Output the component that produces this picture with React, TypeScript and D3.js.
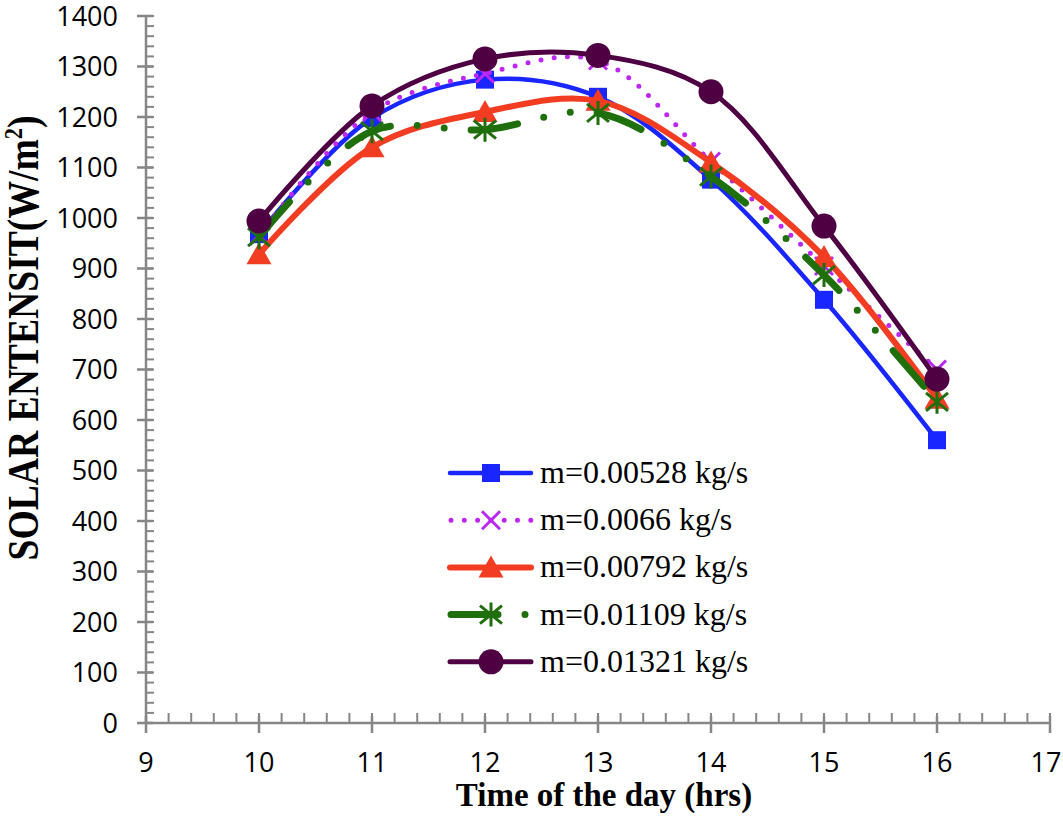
import { useRef, useEffect } from 'react'
import * as d3 from 'd3'

const hours = [10, 11, 12, 13, 14, 15, 16]
const seriesLabels = [
    'm=0.00528 kg/s',
    'm=0.0066 kg/s',
    'm=0.00792 kg/s',
    'm=0.01109 kg/s',
    'm=0.01321 kg/s',
]
const blueValues = [968, 1198, 1274, 1240, 1076, 838, 560]
const violetValues = [965, 1210, 1286, 1312, 1112, 905, 700]
const redValues = [928, 1140, 1210, 1232, 1110, 923, 642]
const greenValues = [962, 1172, 1175, 1208, 1082, 887, 636]
const plumValues = [994, 1222, 1315, 1322, 1250, 984, 681]

const xTicks = [9, 10, 11, 12, 13, 14, 15, 16, 17]
const yTicks = [0, 100, 200, 300, 400, 500, 600, 700, 800, 900, 1000, 1100, 1200, 1300, 1400]

const width = 1063
const height = 831
const left = 146
const right = 1050
const top = 16
const bottom = 723

type Marker = 'square' | 'cross' | 'triangle' | 'asterisk' | 'circle'

const styles: { color: string; width: number; dash: string | null; marker: Marker }[] = [
    { color: '#1a26ff', width: 4.5, dash: null, marker: 'square' },
    { color: '#bb27f3', width: 5, dash: '0 13.3', marker: 'cross' },
    { color: '#f23d22', width: 6, dash: null, marker: 'triangle' },
    { color: '#1f6f0c', width: 7, dash: '47 27 0 27 0 27', marker: 'asterisk' },
    { color: '#4e0043', width: 5, dash: null, marker: 'circle' },
]

const seriesValues = [blueValues, violetValues, redValues, greenValues, plumValues]

function drawMarker(
    g: d3.Selection<SVGGElement, unknown, null, undefined>,
    kind: Marker,
    cx: number,
    cy: number,
    color: string
) {
    if (kind === 'square') {
        g.append('rect')
            .attr('x', cx - 9)
            .attr('y', cy - 9)
            .attr('width', 18)
            .attr('height', 18)
            .attr('fill', color)
    } else if (kind === 'cross') {
        g.append('path')
            .attr('d', `M${cx - 9},${cy - 9}L${cx + 9},${cy + 9}M${cx - 9},${cy + 9}L${cx + 9},${cy - 9}`)
            .attr('stroke', color)
            .attr('stroke-width', 3)
            .attr('fill', 'none')
    } else if (kind === 'triangle') {
        g.append('path')
            .attr('d', `M${cx},${cy - 12}L${cx + 12.5},${cy + 10}L${cx - 12.5},${cy + 10}Z`)
            .attr('fill', color)
    } else if (kind === 'asterisk') {
        g.append('path')
            .attr(
                'd',
                `M${cx},${cy - 12}L${cx},${cy + 12}` +
                    `M${cx - 11},${cy - 9}L${cx + 11},${cy + 9}` +
                    `M${cx - 11},${cy + 9}L${cx + 11},${cy - 9}`
            )
            .attr('stroke', color)
            .attr('stroke-width', 3)
            .attr('fill', 'none')
    } else {
        g.append('circle')
            .attr('cx', cx)
            .attr('cy', cy)
            .attr('r', 12.5)
            .attr('fill', color)
    }
}

export default function App() {
    const ref = useRef<SVGSVGElement | null>(null)

    useEffect(() => {
        if (!ref.current) return
        const svg = d3.select(ref.current)
        svg.selectAll('*').remove()

        const x = d3.scaleLinear().domain([9, 17]).range([left, right])
        const y = d3.scaleLinear().domain([0, 1400]).range([bottom, top])

        const axisColor = '#868686'
        const tickFont = "'Open Sans', sans-serif"
        const serif = "'Liberation Serif', 'Times New Roman', serif"

        // axes
        const axes = svg.append('g')
        const xMinor = d3.range(9, 17.001, 0.2)
        const yMinor = d3.range(0, 1400.001, 20)

        axes.selectAll('.ymin')
            .data(yMinor)
            .enter()
            .append('line')
            .attr('x1', left)
            .attr('x2', left + 8)
            .attr('y1', (d) => y(d))
            .attr('y2', (d) => y(d))
            .attr('stroke', axisColor)
            .attr('stroke-width', 2)

        axes.selectAll('.xmin')
            .data(xMinor)
            .enter()
            .append('line')
            .attr('x1', (d) => x(d))
            .attr('x2', (d) => x(d))
            .attr('y1', bottom - 10)
            .attr('y2', bottom)
            .attr('stroke', axisColor)
            .attr('stroke-width', 2)

        axes.selectAll('.ymaj')
            .data(yTicks)
            .enter()
            .append('line')
            .attr('x1', left - 9)
            .attr('x2', left + 7)
            .attr('y1', (d) => y(d))
            .attr('y2', (d) => y(d))
            .attr('stroke', axisColor)
            .attr('stroke-width', 2.5)

        axes.selectAll('.xmaj')
            .data(xTicks)
            .enter()
            .append('line')
            .attr('x1', (d) => x(d))
            .attr('x2', (d) => x(d))
            .attr('y1', bottom - 7)
            .attr('y2', bottom + 10)
            .attr('stroke', axisColor)
            .attr('stroke-width', 2.5)

        axes.append('line')
            .attr('x1', left)
            .attr('x2', left)
            .attr('y1', top)
            .attr('y2', bottom)
            .attr('stroke', axisColor)
            .attr('stroke-width', 2.5)

        axes.append('line')
            .attr('x1', left)
            .attr('x2', right)
            .attr('y1', bottom)
            .attr('y2', bottom)
            .attr('stroke', axisColor)
            .attr('stroke-width', 2.5)

        axes.selectAll('.ylab')
            .data(yTicks)
            .enter()
            .append('text')
            .attr('x', left - 28)
            .attr('y', (d) => y(d))
            .attr('dy', '0.36em')
            .attr('text-anchor', 'end')
            .attr('font-family', tickFont)
            .attr('font-size', 27)
            .attr('fill', '#000')
            .text((d) => d)

        axes.selectAll('.xlab')
            .data(xTicks)
            .enter()
            .append('text')
            .attr('x', (d) => Math.min(x(d), 1046))
            .attr('y', 772)
            .attr('text-anchor', 'middle')
            .attr('font-family', tickFont)
            .attr('font-size', 27)
            .attr('fill', '#000')
            .text((d) => d)

        // axis titles
        svg.append('text')
            .attr('x', 604)
            .attr('y', 806)
            .attr('text-anchor', 'middle')
            .attr('font-family', serif)
            .attr('font-weight', 'bold')
            .attr('font-size', 33)
            .text('Time of the day (hrs)')

        const yTitle = svg
            .append('text')
            .attr('transform', 'translate(38,338) rotate(-90)')
            .attr('text-anchor', 'middle')
            .attr('font-family', serif)
            .attr('font-weight', 'bold')
            .attr('font-size', 44)
            .attr('textLength', 445)
            .attr('lengthAdjust', 'spacingAndGlyphs')
        yTitle.append('tspan').text('SOLAR ENTENSIT(W/m')
        yTitle.append('tspan').attr('font-size', 26).attr('dy', -16).text('2')
        yTitle.append('tspan').attr('dy', 16).text(')')

        // series
        const line = d3
            .line<number>()
            .x((_, i) => x(hours[i]))
            .y((d) => y(d))
            .curve(d3.curveCatmullRom.alpha(0.5))

        seriesValues.forEach((values, si) => {
            const st = styles[si]
            const g = svg.append('g')
            const path = g
                .append('path')
                .attr('d', line(values))
                .attr('fill', 'none')
                .attr('stroke', st.color)
                .attr('stroke-width', st.width)
                .attr('stroke-linecap', 'round')
                .attr('stroke-linejoin', 'round')
            if (st.dash) path.attr('stroke-dasharray', st.dash)
            values.forEach((v, i) => drawMarker(g, st.marker, x(hours[i]), y(v), st.color))
        })

        // legend
        const legend = svg.append('g')
        seriesLabels.forEach((label, i) => {
            const st = styles[i]
            const cy = 473 + i * 47.2
            const seg = legend
                .append('line')
                .attr('x1', st.dash ? 451 : 450)
                .attr('x2', 531)
                .attr('y1', cy)
                .attr('y2', cy)
                .attr('stroke', st.color)
                .attr('stroke-width', st.width)
                .attr('stroke-linecap', 'round')
            if (st.dash) seg.attr('stroke-dasharray', st.dash)
            drawMarker(legend, st.marker, 491, cy, st.color)
            legend
                .append('text')
                .attr('x', 540)
                .attr('y', cy + 10)
                .attr('font-family', serif)
                .attr('font-size', 32)
                .attr('fill', '#000')
                .text(label)
        })
    }, [])

    return (
        <div style={{ position: 'absolute', left: 0, top: 0 }}>
            <svg
                ref={ref}
                width={width}
                height={height}
                style={{ background: 'white', display: 'block' }}
            />
        </div>
    )
}
